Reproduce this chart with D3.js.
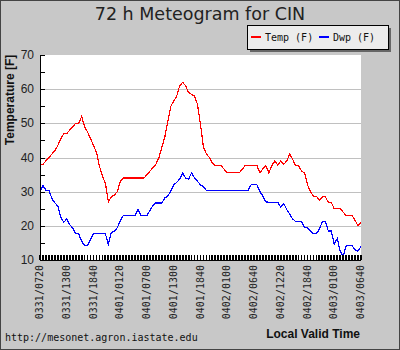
<!DOCTYPE html>
<html>
<head>
<meta charset="utf-8">
<script src="https://cdn.jsdelivr.net/npm/d3@7"></script>
<style>
  body { margin: 0; padding: 0; }
  svg { display: block; }
</style>
</head>
<body>
<div id="chart"></div>
<script>
// observations, roughly every 40 minutes, 0331/0720 -> 0403/0640
var tempF = [
  38, 38, 39, 40, 41, 42, 43.5, 45.5, 47, 47, 48, 49, 50, 50, 52, 49,
  47.5, 45.5, 43.5, 41.5, 37.5, 34.5, 32.5, 27, 28.5, 29, 30, 33, 34, 34,
  34, 34, 34, 34, 34, 34, 35, 36, 37, 38, 40, 43, 46, 50.5, 55, 56.5,
  58, 61, 62, 61, 59, 58.5, 58, 55.5, 49.6, 43, 41, 40, 38.4, 37.6, 37.6, 37.6,
  36.5, 35.5, 35.5, 35.5, 35.5, 35.5, 36.5, 37.6, 37.6, 37.6, 37.6, 37.6, 35.5, 36.7,
  37.6, 35.5, 37.6, 39, 37.8, 39, 38, 39, 41, 39.5, 37.6, 37.6, 36, 35.5,
  32, 30, 28.7, 28.7, 27.5, 28.5, 28.5, 26.9, 26.9, 25, 25, 25, 24, 23,
  23, 23, 21.6, 20, 21
];
var dwpF = [
  30, 31.8, 30.4, 30.4, 28, 26.7, 25.8, 22.5, 21, 22, 20.3, 19.4, 17.7, 17.7, 15.5, 14.2,
  14.2, 16, 17.7, 17.7, 17.7, 17.7, 17.7, 14.5, 18, 18.5, 19.4, 21.5, 23, 23,
  23, 23, 23, 24.8, 23, 23, 23, 24.5, 26, 26.7, 26.7, 26.7, 28.2, 28.7, 30.1, 32,
  32.7, 33.7, 35.5, 34, 33.7, 35.5, 34, 33, 32, 31.5, 30.3, 30.3, 30.3, 30.3, 30.3, 30.3,
  30.3, 30.3, 30.3, 30.3, 30.3, 30.3, 30.3, 30.3, 30.3, 32, 32, 32, 30, 28.7,
  27, 26.9, 26.9, 26.9, 26.9, 25.5, 26.5, 24.8, 23.5, 22, 21.3, 21.3, 21.3, 19.4,
  19.4, 18.5, 17.7, 17.7, 19, 21.3, 21.3, 18.5, 18.5, 14.6, 16.3, 12.6, 11.1, 14.2,
  14.2, 14.2, 13, 12.6, 14
];
var tickLabels = ["0331/0720", "0331/1300", "0331/1840", "0401/0120", "0401/0700",
  "0401/1300", "0401/1840", "0402/0100", "0402/0640", "0402/1220",
  "0402/1840", "0403/0100", "0403/0640"];
var yTicks = [10, 20, 30, 40, 50, 60, 70];

var width = 400, height = 350;
var margin = { left: 40, right: 39, top: 55, bottom: 90 };
var plotW = width - margin.left - margin.right;
var plotH = height - margin.top - margin.bottom;
var mono = "'DejaVu Sans Mono', monospace";

var svg = d3.select("#chart").append("svg")
  .attr("width", width)
  .attr("height", height);

svg.append("rect")
  .attr("x", 0.5).attr("y", 0.5)
  .attr("width", width - 1).attr("height", height - 1)
  .attr("fill", "#c8c8c8")
  .attr("stroke", "#444");

var x = d3.scaleLinear().domain([0, tempF.length - 1]).range([margin.left, margin.left + plotW]);
var y = d3.scaleLinear().domain([10, 70]).range([margin.top + plotH, margin.top]);

svg.append("rect")
  .attr("x", margin.left).attr("y", margin.top)
  .attr("width", plotW).attr("height", plotH)
  .attr("fill", "#fff");

// grid
svg.append("g")
  .selectAll("line")
  .data(yTicks.filter(function (d) { return d > 10 && d < 70; }))
  .enter().append("line")
  .attr("x1", margin.left).attr("x2", margin.left + plotW)
  .attr("y1", function (d) { return Math.round(y(d)) + 0.5; })
  .attr("y2", function (d) { return Math.round(y(d)) + 0.5; })
  .attr("stroke", "#c0c0c0");

// lines
var line = function (vals) {
  return d3.line()
    .x(function (d, i) { return x(i); })
    .y(function (d) { return y(d); })(vals);
};

svg.append("path")
  .attr("d", line(dwpF))
  .attr("fill", "none")
  .attr("stroke", "#0000ff")
  .attr("stroke-width", 1.2)
  .attr("shape-rendering", "crispEdges");

svg.append("path")
  .attr("d", line(tempF))
  .attr("fill", "none")
  .attr("stroke", "#ff0000")
  .attr("stroke-width", 1.2)
  .attr("shape-rendering", "crispEdges");

// y axis
var yAxis = d3.axisRight(y)
  .tickValues(d3.range(10, 71, 5))
  .tickSize(5)
  .tickFormat("");
var yg = svg.append("g")
  .attr("transform", "translate(" + margin.left + ",0)")
  .call(yAxis);
yg.selectAll("path, line").attr("stroke", "#000").attr("shape-rendering", "crispEdges");
yg.select(".domain").attr("d", "M0.5," + margin.top + "V" + (margin.top + plotH));

svg.append("g")
  .selectAll("text")
  .data(yTicks)
  .enter().append("text")
  .attr("x", 34)
  .attr("y", function (d) { return y(d) + 4; })
  .attr("text-anchor", "end")
  .style("font-family", "'Liberation Sans', Arial, sans-serif")
  .style("font-size", "12px")
  .attr("fill", "#222")
  .text(function (d) { return d; });

// x axis with minor ticks
var xg = svg.append("g");
xg.append("line")
  .attr("x1", margin.left).attr("x2", margin.left + plotW)
  .attr("y1", margin.top + plotH + 0.5).attr("y2", margin.top + plotH + 0.5)
  .attr("stroke", "#000");
xg.selectAll("line.minor")
  .data(d3.range(tempF.length))
  .enter().append("line")
  .attr("class", "minor")
  .attr("x1", function (d) { return x(d); })
  .attr("x2", function (d) { return x(d); })
  .attr("y1", margin.top + plotH - 5)
  .attr("y2", margin.top + plotH)
  .attr("stroke", "#000")
  .attr("stroke-width", 1.8)
  .attr("shape-rendering", "crispEdges");

var step = (tempF.length - 1) / (tickLabels.length - 1);
xg.selectAll("text")
  .data(tickLabels)
  .enter().append("text")
  .attr("transform", function (d, i) {
    return "translate(" + (x(i * step) + 3) + "," + (margin.top + plotH + 5) + ") rotate(-90)";
  })
  .attr("text-anchor", "end")
  .style("font-family", mono)
  .style("font-size", "10px")
  .attr("fill", "#222")
  .text(function (d) { return d; });

// titles
svg.append("text")
  .attr("x", 200).attr("y", 20)
  .attr("text-anchor", "middle")
  .style("font-family", "'DejaVu Sans', sans-serif")
  .style("font-size", "17.5px")
  .attr("fill", "#222")
  .text("72 h Meteogram for CIN");

svg.append("text")
  .attr("transform", "translate(14,100) rotate(-90)")
  .attr("text-anchor", "middle")
  .style("font-family", "'Liberation Sans', Arial, sans-serif")
  .style("font-size", "12px")
  .style("font-weight", "bold")
  .attr("fill", "#111")
  .text("Temperature [F]");

svg.append("text")
  .attr("x", 360).attr("y", 338)
  .attr("text-anchor", "end")
  .style("font-family", "'Liberation Sans', Arial, sans-serif")
  .style("font-size", "12px")
  .style("font-weight", "bold")
  .attr("fill", "#111")
  .text("Local Valid Time");

svg.append("text")
  .attr("x", 5).attr("y", 341)
  .style("font-family", mono)
  .style("font-size", "10px")
  .attr("fill", "#111")
  .text("http://mesonet.agron.iastate.edu");

// legend
var lg = svg.append("g").attr("transform", "translate(247,25)");
lg.append("rect")
  .attr("x", 3).attr("y", 3).attr("width", 141).attr("height", 24)
  .attr("fill", "#666");
lg.append("rect")
  .attr("x", 0.5).attr("y", 0.5).attr("width", 141).attr("height", 24)
  .attr("fill", "#ececec").attr("stroke", "#000");

var legendItems = [
  { name: "Temp (F)", color: "#ff0000", x: 4 },
  { name: "Dwp (F)", color: "#0000ff", x: 72 }
];
var li = lg.selectAll("g.item").data(legendItems).enter().append("g")
  .attr("transform", function (d) { return "translate(" + d.x + ",0)"; });
li.append("rect")
  .attr("x", 0).attr("y", 11).attr("width", 10).attr("height", 2)
  .attr("fill", function (d) { return d.color; });
li.append("text")
  .attr("x", 14).attr("y", 16)
  .style("font-family", mono)
  .style("font-size", "10px")
  .attr("fill", "#111")
  .text(function (d) { return d.name; });
</script>
</body>
</html>
